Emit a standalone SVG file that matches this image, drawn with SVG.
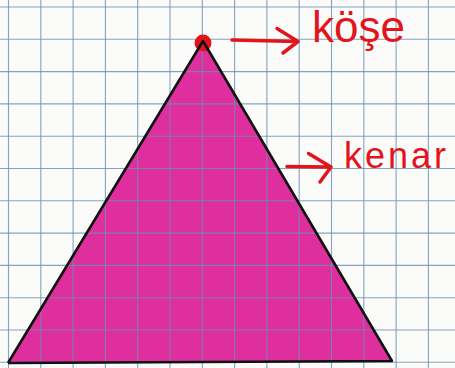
<svg xmlns="http://www.w3.org/2000/svg" width="455" height="368" viewBox="0 0 455 368">
<style>
.grid line{stroke:#6a8fb2;stroke-width:1.1;opacity:0.8}
.lbl{font-family:"Liberation Sans",Arial,sans-serif;fill:#e3141c}
.arr{stroke:#e3141c;stroke-width:3.5;fill:none;stroke-linecap:round;stroke-linejoin:round}
</style>
<rect width="455" height="368" fill="#fbfbfa"/>
<g id="triangle">
<polygon points="203,41 8,363 392,361" fill="#df2f9e"/>
</g>
<g class="grid">
<line x1="8.5" y1="0" x2="8.5" y2="368"/>
<line x1="40.8" y1="0" x2="40.8" y2="368"/>
<line x1="73.1" y1="0" x2="73.1" y2="368"/>
<line x1="105.4" y1="0" x2="105.4" y2="368"/>
<line x1="137.7" y1="0" x2="137.7" y2="368"/>
<line x1="170" y1="0" x2="170" y2="368"/>
<line x1="202.3" y1="0" x2="202.3" y2="368"/>
<line x1="234.6" y1="0" x2="234.6" y2="368"/>
<line x1="266.9" y1="0" x2="266.9" y2="368"/>
<line x1="299.2" y1="0" x2="299.2" y2="368"/>
<line x1="331.5" y1="0" x2="331.5" y2="368"/>
<line x1="363.8" y1="0" x2="363.8" y2="368"/>
<line x1="396.1" y1="0" x2="396.1" y2="368"/>
<line x1="428.4" y1="0" x2="428.4" y2="368"/>
<line x1="0" y1="7" x2="455" y2="7"/>
<line x1="0" y1="39.3" x2="455" y2="39.3"/>
<line x1="0" y1="71.6" x2="455" y2="71.6"/>
<line x1="0" y1="103.9" x2="455" y2="103.9"/>
<line x1="0" y1="136.2" x2="455" y2="136.2"/>
<line x1="0" y1="168.5" x2="455" y2="168.5"/>
<line x1="0" y1="200.8" x2="455" y2="200.8"/>
<line x1="0" y1="233.1" x2="455" y2="233.1"/>
<line x1="0" y1="265.4" x2="455" y2="265.4"/>
<line x1="0" y1="297.7" x2="455" y2="297.7"/>
<line x1="0" y1="330" x2="455" y2="330"/>
<line x1="0" y1="362.3" x2="455" y2="362.3"/>
</g>
<g id="vertex">
<circle cx="203" cy="43" r="8.5" fill="#e3141c"/>
</g>
<g id="edges">
<polyline points="8,363 203,41 392,361 8,363" fill="none" stroke="#111" stroke-width="2.6" stroke-linejoin="round"/>
</g>
<g id="connectors">
<path class="arr" d="M232,40 L298,41.5 M277,28.5 L298,41.5 L283,53"/>
<path class="arr" d="M287,166.5 L331,167 M308.5,153.5 L331,167 L320,182"/>
</g>
<g id="label-kose">
<text class="lbl" x="312" y="42" font-size="44">köşe</text>
</g>
<g id="label-kenar">
<text class="lbl" x="344" y="168" font-size="36" letter-spacing="3">kenar</text>
</g>
</svg>
